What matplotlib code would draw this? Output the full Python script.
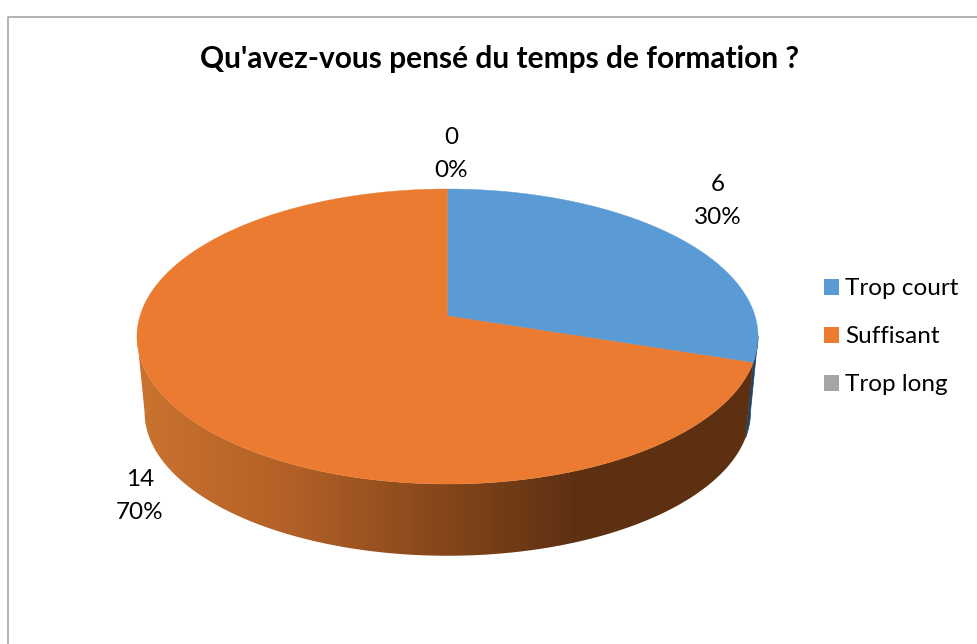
import numpy as np
import matplotlib
matplotlib.use('Agg')
import matplotlib.pyplot as plt
from matplotlib.patches import Polygon, Patch
from matplotlib.colors import LinearSegmentedColormap

plt.rcParams['font.family'] = ['Lato', 'DejaVu Sans']

title = "Qu'avez-vous pensé du temps de formation ?"
categories = ['Trop court', 'Suffisant', 'Trop long']
counts = [6, 14, 0]
colors = ['#5B9BD5', '#EB7B31', '#A5A5A5']

# the pie is a tilted disc: k is the perspective, the rest are pixels
k = 0.139
cx = 447.5
top_face = (307.5, 144.65, 316.0)
low_face = (300.0, 141.0, 392.0)


def project(angle, face):
    # angle in radians, clockwise from 12 o'clock
    a, b, y0 = face
    x = np.sin(angle)
    y = np.cos(angle)
    w = 1 + k * y
    return cx + a * x / w, y0 - b * y / w


def arc(start, stop, face):
    n = max(2, int(abs(stop - start) * 90))
    xs, ys = project(np.linspace(start, stop, n), face)
    return np.column_stack([xs, ys])


fig = plt.figure(figsize=(9.78, 6.44), dpi=100)
ax = fig.add_axes([0, 0, 1, 1])
ax.set_xlim(0, 978)
ax.set_ylim(644, 0)
ax.axis('off')

# chart frame
ax.plot([7.5, 7.5, 978], [644, 16.5, 16.5], color='#A6A6A6', lw=1.2)

ax.text(499, 59, title, ha='center', va='center', fontsize=21.5,
        fontweight='bold', color='black')

shares = np.array(counts) / sum(counts)
edges = np.concatenate([[0], np.cumsum(shares)]) * 2 * np.pi

# side of the pie, seen between the two outline extremes
right_end = np.arccos(-k)
left_end = 2 * np.pi - right_end

split = edges[1]
side_orange = np.vstack([arc(split, left_end, top_face),
                         arc(left_end, split, low_face)])
side_blue = np.vstack([arc(right_end, split, top_face),
                       arc(split, right_end, low_face)])
ax.add_patch(Polygon(side_blue, closed=True, fc='#1F4468', ec='#1F4468', lw=0.5))

shade = LinearSegmentedColormap.from_list('shade', [
    (0.0, '#CB7330'), (0.26, '#B05F26'), (0.50, '#83451A'),
    (0.70, '#5F3113'), (1.0, '#5E3012')])
im = ax.imshow(np.linspace(0, 1, 512).reshape(1, -1), cmap=shade,
               extent=(137, 760, 560, 340), aspect='auto', zorder=2)
clip = Polygon(side_orange, closed=True, transform=ax.transData, fc='none', ec='none')
ax.add_patch(clip)
im.set_clip_path(clip)
ax.set_xlim(0, 978)
ax.set_ylim(644, 0)

# top face
for i in range(len(counts)):
    if counts[i] == 0:
        continue
    pts = np.vstack([[[cx, top_face[2]]], arc(edges[i], edges[i + 1], top_face)])
    ax.add_patch(Polygon(pts, closed=True, fc=colors[i], ec=colors[i], lw=0.3, zorder=3))

# data labels
label_pos = [(718, 201), (140, 496), (451, 154)]
for n, share, (x, y) in zip(counts, shares, label_pos):
    ax.text(x, y, '%d\n%d%%' % (n, round(share * 100)), ha='center', va='center',
            fontsize=17.5, linespacing=1.7, color='black')

handles = [Patch(fc=c, ec='none') for c in colors]
ax.legend(handles, categories, loc='upper left', bbox_to_anchor=(0.8425, 0.568),
          frameon=False, fontsize=17.5, handlelength=0.62, handleheight=0.62,
          handletextpad=0.24, labelspacing=1.115, borderpad=0, borderaxespad=0)

fig.savefig('out.png', dpi=100)
